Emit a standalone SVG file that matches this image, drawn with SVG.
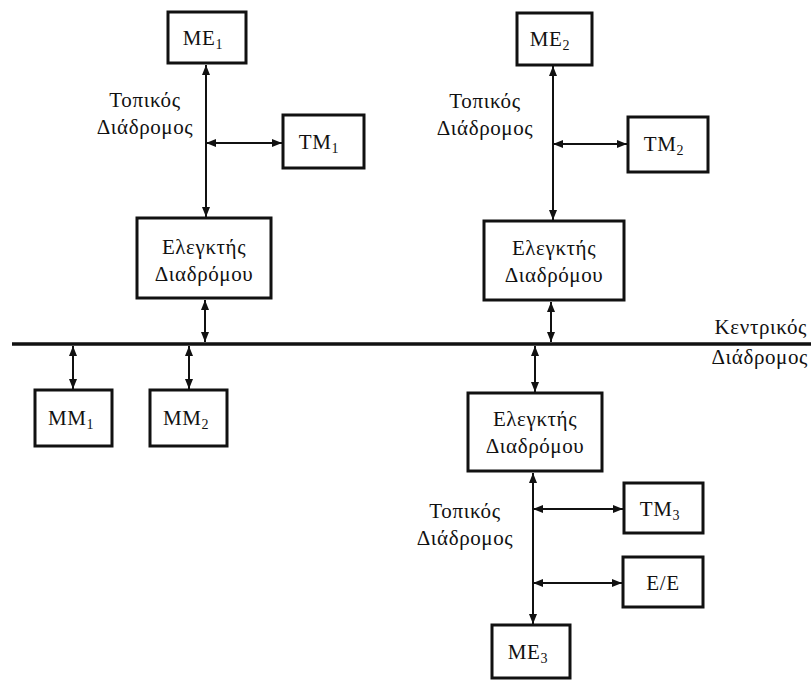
<svg xmlns="http://www.w3.org/2000/svg" width="811" height="681" viewBox="0 0 811 681">
<style>
.box{fill:#fff;stroke:#111;stroke-width:3}
.ln{stroke:#111;stroke-width:2;fill:none}
.bus{stroke:#111;stroke-width:3.5;fill:none}
text{font-family:"Liberation Serif","DejaVu Serif",serif;font-size:21px;letter-spacing:0.6px;fill:#111}
.c{text-anchor:middle}
.sub{font-size:14px}
</style>
<defs>
<marker id="ah" viewBox="0 0 10 10" refX="10" refY="5" markerWidth="10" markerHeight="10" markerUnits="userSpaceOnUse" orient="auto-start-reverse">
<path d="M0,1 L10,5 L0,9 Z" fill="#111"/>
</marker>
</defs>
<g id="connectors">
<line class="bus" x1="12" y1="344" x2="811" y2="344"/>
<line class="ln" x1="206" y1="65" x2="206" y2="217" marker-start="url(#ah)" marker-end="url(#ah)"/>
<line class="ln" x1="206" y1="143" x2="282" y2="143" marker-start="url(#ah)" marker-end="url(#ah)"/>
<line class="ln" x1="205" y1="300" x2="205" y2="342" marker-start="url(#ah)" marker-end="url(#ah)"/>
<line class="ln" x1="553" y1="66" x2="553" y2="220" marker-start="url(#ah)" marker-end="url(#ah)"/>
<line class="ln" x1="553" y1="144" x2="627" y2="144" marker-start="url(#ah)" marker-end="url(#ah)"/>
<line class="ln" x1="551" y1="302" x2="551" y2="342" marker-start="url(#ah)" marker-end="url(#ah)"/>
<line class="ln" x1="73" y1="346" x2="73" y2="389" marker-start="url(#ah)" marker-end="url(#ah)"/>
<line class="ln" x1="189" y1="346" x2="189" y2="389" marker-start="url(#ah)" marker-end="url(#ah)"/>
<line class="ln" x1="535" y1="346" x2="535" y2="392" marker-start="url(#ah)" marker-end="url(#ah)"/>
<line class="ln" x1="533" y1="473" x2="533" y2="624" marker-start="url(#ah)" marker-end="url(#ah)"/>
<line class="ln" x1="533" y1="509" x2="623" y2="509" marker-start="url(#ah)" marker-end="url(#ah)"/>
<line class="ln" x1="533" y1="583" x2="622" y2="583" marker-start="url(#ah)" marker-end="url(#ah)"/>
</g>
<g id="labels">
<text x="145" y="107" class="c">Τοπικός</text>
<text x="145" y="134" class="c">Διάδρομος</text>
<text x="485" y="108" class="c">Τοπικός</text>
<text x="485" y="135" class="c">Διάδρομος</text>
<text x="465" y="518" class="c">Τοπικός</text>
<text x="465" y="545" class="c">Διάδρομος</text>
<text x="807" y="334" text-anchor="end">Κεντρικός</text>
<text x="808" y="364" text-anchor="end">Διάδρομος</text>
</g>
<g id="ME1"><rect class="box" x="168" y="12" width="78" height="51"/><text x="203" y="45" class="c">ME<tspan class="sub" dy="4">1</tspan></text></g>
<g id="TM1"><rect class="box" x="283" y="115" width="81" height="53"/><text x="319" y="149" class="c">TM<tspan class="sub" dy="4">1</tspan></text></g>
<g id="EL1"><rect class="box" x="137" y="218" width="134" height="80"/><text x="204" y="254" class="c">Ελεγκτής</text><text x="204" y="281" class="c">Διαδρόμου</text></g>
<g id="ME2"><rect class="box" x="517" y="13" width="75" height="52"/><text x="550" y="46" class="c">ME<tspan class="sub" dy="4">2</tspan></text></g>
<g id="TM2"><rect class="box" x="628" y="117" width="80" height="55"/><text x="664" y="151" class="c">TM<tspan class="sub" dy="4">2</tspan></text></g>
<g id="EL2"><rect class="box" x="484" y="221" width="140" height="79"/><text x="554" y="255" class="c">Ελεγκτής</text><text x="554" y="282" class="c">Διαδρόμου</text></g>
<g id="MM1"><rect class="box" x="35" y="390" width="77" height="56"/><text x="71" y="425" class="c">MM<tspan class="sub" dy="4">1</tspan></text></g>
<g id="MM2"><rect class="box" x="150" y="390" width="77" height="56"/><text x="186" y="425" class="c">MM<tspan class="sub" dy="4">2</tspan></text></g>
<g id="EL3"><rect class="box" x="468" y="393" width="134" height="78"/><text x="535" y="426" class="c">Ελεγκτής</text><text x="535" y="453" class="c">Διαδρόμου</text></g>
<g id="TM3"><rect class="box" x="624" y="483" width="79" height="50"/><text x="660" y="516" class="c">TM<tspan class="sub" dy="4">3</tspan></text></g>
<g id="EE"><rect class="box" x="623" y="557" width="80" height="50"/><text x="663" y="590" class="c">E/E</text></g>
<g id="ME3"><rect class="box" x="492" y="625" width="78" height="53"/><text x="528" y="659" class="c">ME<tspan class="sub" dy="4">3</tspan></text></g>
</svg>
